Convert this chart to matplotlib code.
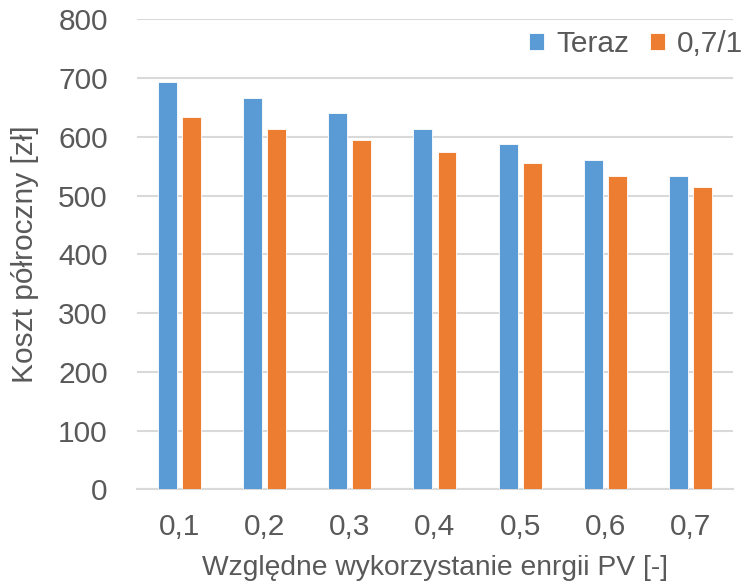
import numpy as np
import matplotlib
matplotlib.use('Agg')
import matplotlib.pyplot as plt

categories = ['0,1', '0,2', '0,3', '0,4', '0,5', '0,6', '0,7']
teraz = [693, 666, 640, 614, 588, 561, 534]
nowe = [633, 614, 594, 574, 555, 534, 515]
series_names = ['Teraz', '0,7/1']
yticks = [0, 100, 200, 300, 400, 500, 600, 700, 800]

plt.rcParams['font.family'] = ['Liberation Sans', 'DejaVu Sans']
txt = '#595959'

fig = plt.figure(figsize=(7.46, 5.87), dpi=100)
ax = fig.add_axes([0.1836, 0.1664, 0.799, 0.8007])

x = np.arange(len(categories))
w = 0.223
off = 0.141
ax.bar(x - off, teraz, w, color='#5B9BD5', edgecolor='white', linewidth=0.6,
       label=series_names[0], zorder=3)
ax.bar(x + off, nowe, w, color='#ED7D31', edgecolor='white', linewidth=0.6,
       label=series_names[1], zorder=3)

ax.set_xlim(-0.5, len(categories) - 0.5)
ax.set_ylim(0, 800)
ax.set_yticks(yticks)
ax.set_yticklabels([str(v) for v in yticks])
ax.set_xticks(x)
ax.set_xticklabels(categories)

ax.grid(axis='y', color='#D9D9D9', linewidth=1.5, zorder=0)
for s in ['top', 'right', 'left']:
    ax.spines[s].set_visible(False)
ax.spines['bottom'].set_color('#D9D9D9')
ax.spines['bottom'].set_linewidth(1.5)
ax.tick_params(axis='both', length=0, labelsize=21.5, colors=txt)
ax.tick_params(axis='y', pad=21)
ax.tick_params(axis='x', pad=17)

ax.set_xlabel('Względne wykorzystanie enrgii PV [-]', fontsize=20.3, color=txt, labelpad=10)
ax.set_ylabel('Koszt półroczny [zł]', fontsize=21.5, color=txt, labelpad=14)

leg = fig.legend(loc='center right', bbox_to_anchor=(743 / 746, 1 - 44.5 / 587), ncol=2,
                 frameon=False, fontsize=21.5, handlelength=0.5, handleheight=0.5,
                 handletextpad=0.4, columnspacing=0.7, borderpad=0, borderaxespad=0,
                 labelcolor=txt)

fig.savefig('out.png', dpi=100)
